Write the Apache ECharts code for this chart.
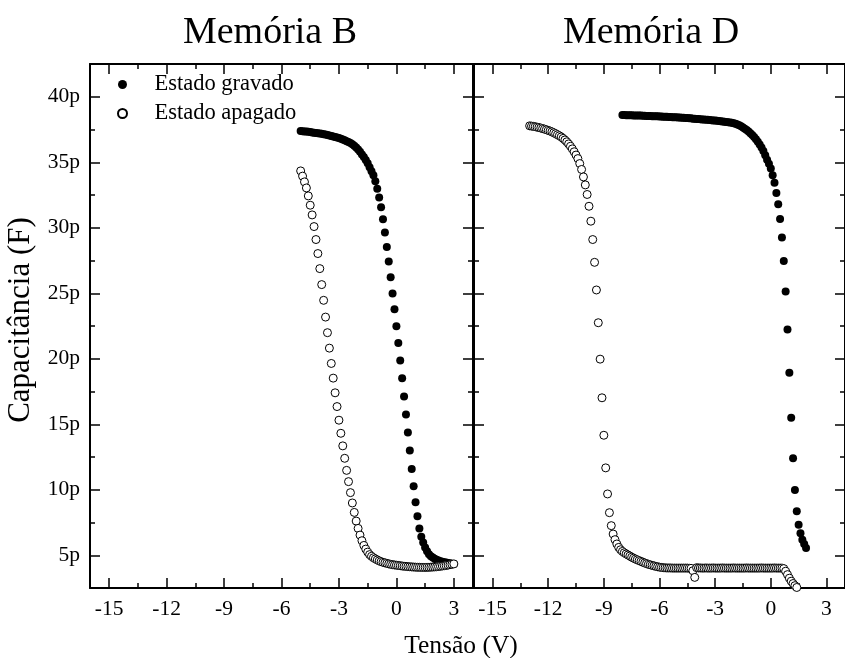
<!DOCTYPE html>
<html>
<head>
<meta charset="utf-8">
<script src="https://cdn.jsdelivr.net/npm/echarts@6/dist/echarts.min.js"></script>
<style>
  html, body { margin: 0; padding: 0; background: #fff; }
  #chart { width: 845px; height: 658px; }
</style>
</head>
<body>
<div id="chart"></div>
<script>
// C-V curves of two memory devices: programmed (filled) and erased (open) states.
const panelTitles = ['Memória B', 'Memória D'];
const seriesNames = ['Estado gravado', 'Estado apagado'];
const xAxisName = 'Tensão (V)';
const yAxisName = 'Capacitância (F)';

const xTicks = [-15, -12, -9, -6, -3, 0, 3];
const xMinorTicks = [-13.5, -10.5, -7.5, -4.5, -1.5, 1.5];
const yTicks = [5, 10, 15, 20, 25, 30, 35, 40];
const yMinorTicks = [7.5, 12.5, 17.5, 22.5, 27.5, 32.5, 37.5];

// Memória B: voltage sweep shared by both states (V)
const bSweepV = [
  -5, -4.9, -4.8, -4.7, -4.6, -4.5, -4.4, -4.3, -4.2, -4.1,
  -4, -3.9, -3.8, -3.7, -3.6, -3.5, -3.4, -3.3, -3.2, -3.1,
  -3, -2.9, -2.8, -2.7, -2.6, -2.5, -2.4, -2.3, -2.2, -2.1,
  -2, -1.9, -1.8, -1.7, -1.6, -1.5, -1.4, -1.3, -1.2, -1.1,
  -1, -0.9, -0.8, -0.7, -0.6, -0.5, -0.4, -0.3, -0.2, -0.1,
  0, 0.1, 0.2, 0.3, 0.4, 0.5, 0.6, 0.7, 0.8, 0.9,
  1, 1.1, 1.2, 1.3, 1.4, 1.5, 1.6, 1.7, 1.8, 1.9,
  2, 2.1, 2.2, 2.3, 2.4, 2.5, 2.6, 2.7, 2.8, 2.9,
  3
];
// Memória B, programmed state (pF)
const bGravadoC = [
  37.38, 37.37, 37.35, 37.34, 37.32, 37.30, 37.28, 37.26, 37.24, 37.22,
  37.20, 37.17, 37.14, 37.11, 37.08, 37.05, 37.01, 36.97, 36.93, 36.89,
  36.85, 36.79, 36.73, 36.67, 36.61, 36.55, 36.46, 36.37, 36.26, 36.12,
  35.98, 35.80, 35.60, 35.40, 35.18, 34.92, 34.62, 34.32, 34.00, 33.55,
  32.97, 32.31, 31.57, 30.65, 29.63, 28.53, 27.42, 26.22, 24.99, 23.77,
  22.49, 21.20, 19.87, 18.52, 17.12, 15.74, 14.37, 12.99, 11.59, 10.26,
  9.04, 7.97, 7.05, 6.41, 5.98, 5.60, 5.30, 5.08, 4.93, 4.82,
  4.73, 4.65, 4.59, 4.54, 4.50, 4.47, 4.44, 4.41, 4.38, 4.36,
  4.33
];
// Memória B, erased state (pF)
const bApagadoC = [
  34.34, 33.94, 33.50, 33.04, 32.43, 31.72, 30.98, 30.09, 29.10, 28.03,
  26.88, 25.66, 24.46, 23.18, 21.99, 20.81, 19.64, 18.52, 17.40, 16.35,
  15.31, 14.31, 13.35, 12.40, 11.48, 10.62, 9.78, 8.99, 8.27, 7.61,
  7.05, 6.54, 6.11, 5.75, 5.47, 5.24, 5.05, 4.92, 4.81, 4.72,
  4.64, 4.57, 4.51, 4.46, 4.42, 4.38, 4.34, 4.31, 4.28, 4.26,
  4.24, 4.22, 4.20, 4.18, 4.16, 4.15, 4.13, 4.12, 4.11, 4.10,
  4.09, 4.08, 4.08, 4.07, 4.07, 4.07, 4.08, 4.08, 4.09, 4.10,
  4.11, 4.12, 4.14, 4.16, 4.18, 4.20, 4.22, 4.25, 4.28, 4.31,
  4.34
];

// Memória D, programmed state: sweep (V) and capacitance (pF)
const dGravadoV = [
  -8, -7.9, -7.8, -7.7, -7.6, -7.5, -7.4, -7.3, -7.2, -7.1,
  -7, -6.9, -6.8, -6.7, -6.6, -6.5, -6.4, -6.3, -6.2, -6.1,
  -6, -5.9, -5.8, -5.7, -5.6, -5.5, -5.4, -5.3, -5.2, -5.1,
  -5, -4.9, -4.8, -4.7, -4.6, -4.5, -4.4, -4.3, -4.2, -4.1,
  -4, -3.9, -3.8, -3.7, -3.6, -3.5, -3.4, -3.3, -3.2, -3.1,
  -3, -2.9, -2.8, -2.7, -2.6, -2.5, -2.4, -2.3, -2.2, -2.1,
  -2, -1.9, -1.8, -1.7, -1.6, -1.5, -1.4, -1.3, -1.2, -1.1,
  -1, -0.9, -0.8, -0.7, -0.6, -0.5, -0.4, -0.3, -0.2, -0.1,
  0, 0.1, 0.2, 0.3, 0.4, 0.5, 0.6, 0.7, 0.8, 0.9,
  1, 1.1, 1.2, 1.3, 1.4, 1.5, 1.6, 1.7, 1.8, 1.9
];
const dGravadoC = [
  38.60, 38.60, 38.59, 38.59, 38.58, 38.58, 38.57, 38.57, 38.56, 38.56,
  38.56, 38.55, 38.55, 38.54, 38.54, 38.53, 38.52, 38.52, 38.51, 38.51,
  38.50, 38.49, 38.48, 38.48, 38.47, 38.46, 38.45, 38.44, 38.44, 38.43,
  38.42, 38.41, 38.40, 38.39, 38.38, 38.37, 38.36, 38.35, 38.33, 38.32,
  38.31, 38.30, 38.29, 38.27, 38.26, 38.25, 38.24, 38.22, 38.21, 38.19,
  38.18, 38.16, 38.15, 38.13, 38.12, 38.10, 38.08, 38.06, 38.04, 38.01,
  37.98, 37.93, 37.88, 37.82, 37.74, 37.66, 37.56, 37.46, 37.34, 37.22,
  37.08, 36.92, 36.75, 36.56, 36.36, 36.12, 35.85, 35.54, 35.20, 34.88,
  34.53, 34.01, 33.43, 32.66, 31.80, 30.67, 29.25, 27.46, 25.14, 22.24,
  18.93, 15.49, 12.40, 9.98, 8.35, 7.33, 6.67, 6.19, 5.86, 5.55
];

// Memória D, erased state: sweep (V) and capacitance (pF)
const dApagadoV = [
  -13, -12.9, -12.8, -12.7, -12.6, -12.5, -12.4, -12.3, -12.2, -12.1,
  -12, -11.9, -11.8, -11.7, -11.6, -11.5, -11.4, -11.3, -11.2, -11.1,
  -11, -10.9, -10.8, -10.7, -10.6, -10.5, -10.4, -10.3, -10.2, -10.1,
  -10, -9.9, -9.8, -9.7, -9.6, -9.5, -9.4, -9.3, -9.2, -9.1,
  -9, -8.9, -8.8, -8.7, -8.6, -8.5, -8.4, -8.3, -8.2, -8.1,
  -8, -7.9, -7.8, -7.7, -7.6, -7.5, -7.4, -7.3, -7.2, -7.1,
  -7, -6.9, -6.8, -6.7, -6.6, -6.5, -6.4, -6.3, -6.2, -6.1,
  -6, -5.9, -5.8, -5.7, -5.6, -5.5, -5.4, -5.3, -5.2, -5.1,
  -5, -4.9, -4.8, -4.7, -4.6, -4.5, -4.4, -4.3, -4.2, -4.1,
  -4, -3.9, -3.8, -3.7, -3.6, -3.5, -3.4, -3.3, -3.2, -3.1,
  -3, -2.9, -2.8, -2.7, -2.6, -2.5, -2.4, -2.3, -2.2, -2.1,
  -2, -1.9, -1.8, -1.7, -1.6, -1.5, -1.4, -1.3, -1.2, -1.1,
  -1, -0.9, -0.8, -0.7, -0.6, -0.5, -0.4, -0.3, -0.2, -0.1,
  0, 0.1, 0.2, 0.3, 0.4, 0.5, 0.6, 0.7, 0.8, 0.9,
  1, 1.1, 1.2, 1.3, 1.4
];
const dApagadoC = [
  37.78, 37.76, 37.74, 37.71, 37.68, 37.65, 37.61, 37.57, 37.53, 37.48,
  37.43, 37.38, 37.32, 37.25, 37.18, 37.10, 37.02, 36.93, 36.82, 36.70,
  36.56, 36.40, 36.22, 36.02, 35.80, 35.55, 35.28, 34.90, 34.45, 33.88,
  33.27, 32.54, 31.64, 30.50, 29.10, 27.36, 25.25, 22.75, 19.97, 17.02,
  14.16, 11.67, 9.68, 8.25, 7.26, 6.62, 6.19, 5.86, 5.60, 5.42,
  5.29, 5.19, 5.10, 5.02, 4.94, 4.85, 4.78, 4.71, 4.65, 4.59,
  4.53, 4.47, 4.41, 4.36, 4.31, 4.27, 4.23, 4.19, 4.15, 4.12,
  4.09, 4.07, 4.05, 4.04, 4.03, 4.03, 4.03, 4.02, 4.02, 4.02,
  4.02, 4.02, 4.02, 4.02, 4.02, 4.02, 4.01, 4.00, 3.82, 3.31,
  4.05, 4.03, 4.03, 4.02, 4.02, 4.03, 4.02, 4.02, 4.02, 4.03,
  4.02, 4.02, 4.02, 4.02, 4.03, 4.02, 4.02, 4.02, 4.02, 4.02,
  4.03, 4.02, 4.02, 4.02, 4.02, 4.02, 4.02, 4.03, 4.02, 4.02,
  4.02, 4.02, 4.02, 4.02, 4.02, 4.03, 4.02, 4.02, 4.02, 4.02,
  4.02, 4.02, 4.03, 4.02, 4.02, 4.02, 4.02, 3.98, 3.78, 3.52,
  3.25, 3.02, 2.84, 2.68, 2.54
];

const FONT = '"Liberation Serif", "Times New Roman", serif';
const X_RANGE = [-16, 4];
const Y_RANGE = [2.5, 42.5];

function pairs(xs, ys) {
  return xs.map((x, i) => [x, ys[i]]);
}

// Four x axes and four y axes per panel: framed sides with major ticks,
// plus overlaid tick-only axes carrying the shorter minor ticks.
function panelAxes(gi, withYLabels) {
  const base = { gridIndex: gi, type: 'value', splitLine: { show: false }, axisPointer: { show: false } };
  const line = { show: true, onZero: false, lineStyle: { color: '#000', width: 2 } };
  const noLine = { show: false, onZero: false };
  const tick = (vals, len) => ({ show: true, inside: true, length: len, customValues: vals,
    lineStyle: { color: '#000', width: 1.5 } });
  const off = { show: false };
  const xLabel = { show: true, customValues: xTicks, margin: 10, fontFamily: FONT, fontSize: 21.5, color: '#000' };
  const yLabel = { show: withYLabels, customValues: yTicks, margin: 10, fontFamily: FONT, fontSize: 21.5,
    color: '#000', formatter: v => v + 'p' };
  const xr = { min: X_RANGE[0], max: X_RANGE[1] };
  const yr = { min: Y_RANGE[0], max: Y_RANGE[1] };
  return {
    x: [
      Object.assign({}, base, xr, { position: 'bottom', axisLine: line, axisTick: tick(xTicks, 10), axisLabel: xLabel }),
      Object.assign({}, base, xr, { position: 'bottom', axisLine: noLine, axisTick: tick(xMinorTicks, 5), axisLabel: off }),
      Object.assign({}, base, xr, { position: 'top', axisLine: line, axisTick: tick(xTicks, 10), axisLabel: off }),
      Object.assign({}, base, xr, { position: 'top', axisLine: noLine, axisTick: tick(xMinorTicks, 5), axisLabel: off })
    ],
    y: [
      Object.assign({}, base, yr, { position: 'left', axisLine: line, axisTick: tick(yTicks, 10), axisLabel: yLabel }),
      Object.assign({}, base, yr, { position: 'left', axisLine: noLine, axisTick: tick(yMinorTicks, 5), axisLabel: off }),
      Object.assign({}, base, yr, { position: 'right', axisLine: line, axisTick: tick(yTicks, 10), axisLabel: off }),
      Object.assign({}, base, yr, { position: 'right', axisLine: noLine, axisTick: tick(yMinorTicks, 5), axisLabel: off })
    ]
  };
}

const pB = panelAxes(0, true);
const pD = panelAxes(1, false);

const filledStyle = { color: '#000', opacity: 1 };
const openStyle = { color: '#fff', borderColor: '#000', borderWidth: 1, opacity: 1 };

function centredText(x, y, text, size, rotation) {
  return { type: 'text', x: x, y: y, rotation: rotation || 0,
    style: { text: text, font: size + 'px ' + FONT, fill: '#000',
      textAlign: 'center', textVerticalAlign: 'middle', align: 'center', verticalAlign: 'middle' } };
}

const chart = echarts.init(document.getElementById('chart'), null, { renderer: 'canvas' });
chart.setOption({
  animation: false,
  backgroundColor: '#fff',
  grid: [
    { left: 90, top: 64, width: 383, height: 524 },
    { left: 474, top: 64, width: 383, height: 524 }
  ],
  xAxis: pB.x.concat(pD.x),
  yAxis: pB.y.concat(pD.y),
  legend: {
    data: seriesNames,
    orient: 'vertical',
    left: 117,
    top: 73,
    padding: 0,
    itemWidth: 54,
    itemHeight: 9,
    itemGap: 6,
    selectedMode: false,
    textStyle: { fontFamily: FONT, fontSize: 22.5, color: '#000', lineHeight: 22 }
  },
  graphic: [
    centredText(270, 33, panelTitles[0], 38),
    centredText(651, 33, panelTitles[1], 38),
    centredText(461, 646, xAxisName, 25.5),
    centredText(21, 320, yAxisName, 31, Math.PI / 2)
  ],
  series: [
    { type: 'scatter', name: seriesNames[0], xAxisIndex: 0, yAxisIndex: 0, symbol: 'circle', symbolSize: 8,
      itemStyle: filledStyle, data: pairs(bSweepV, bGravadoC), emphasis: { disabled: true } },
    { type: 'scatter', name: seriesNames[1], xAxisIndex: 0, yAxisIndex: 0, symbol: 'circle', symbolSize: 8,
      itemStyle: openStyle, data: pairs(bSweepV, bApagadoC), emphasis: { disabled: true } },
    { type: 'scatter', name: seriesNames[0], xAxisIndex: 4, yAxisIndex: 4, symbol: 'circle', symbolSize: 8,
      itemStyle: filledStyle, data: pairs(dGravadoV, dGravadoC), emphasis: { disabled: true } },
    { type: 'scatter', name: seriesNames[1], xAxisIndex: 4, yAxisIndex: 4, symbol: 'circle', symbolSize: 8,
      itemStyle: openStyle, data: pairs(dApagadoV, dApagadoC), emphasis: { disabled: true } }
  ]
});
</script>
</body>
</html>
